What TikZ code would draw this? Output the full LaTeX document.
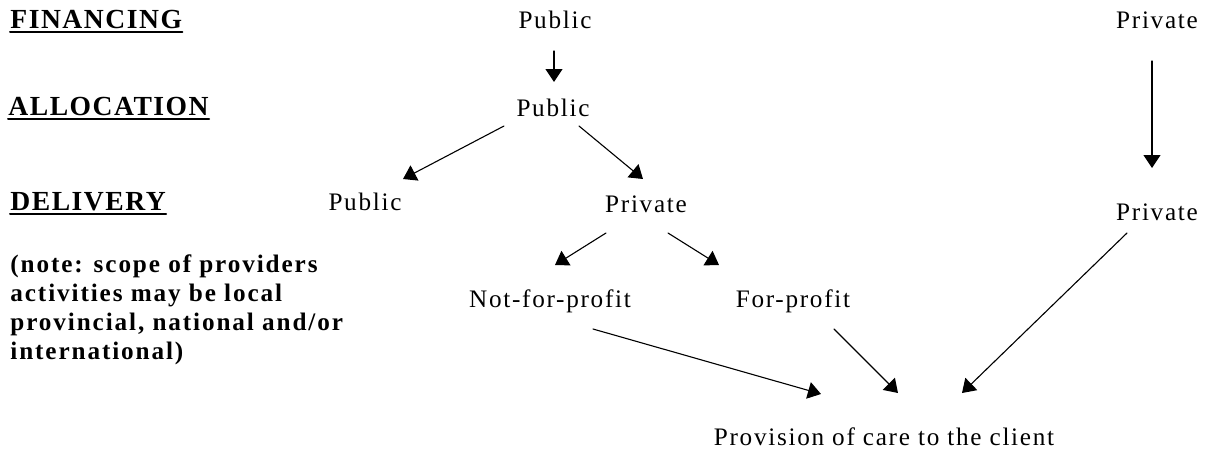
\documentclass[tikz,border=0pt]{standalone}
\usepackage{fontspec}
\setmainfont{Liberation Serif}
\usepackage{tikz}
\usetikzlibrary{arrows.meta}

\begin{document}
\begin{tikzpicture}[x=.5pt,y=-.5pt,line cap=round,line join=round,
  lbl/.style={inner sep=0pt,anchor=base,
    font=\fontsize{12.6}{14.5}\selectfont\addfontfeatures{LetterSpace=6.8}},
  head/.style={inner sep=0pt,anchor=base west,
    font=\fontsize{13.8}{16}\bfseries\addfontfeatures{LetterSpace=5.5}},
  arr/.style={-{Triangle[length=6.5pt,width=8.5pt]},line width=.55pt}]
\useasboundingbox(0,0)rectangle(1207,452);
% row titles
\node[head](fin)at(10,28){FINANCING};
\node[head](alloc)at(8,115){ALLOCATION};
\node[head](deliv)at(10,210){DELIVERY\ };
\foreach \h in {fin,alloc,deliv}
  \draw[line width=1pt]([yshift=-2pt]\h.base west)--([yshift=-2pt]\h.base east);
\node[anchor=north west,inner sep=0pt,align=left,
  font=\fontsize{12.6}{14.5}\bfseries\addfontfeatures{LetterSpace=7.5}](note)at(10,254)
  {(note: scope of providers\\activities may be local\\provincial, national and/or\\international)};
% public and private branches
\node[lbl](pubF)at(555,28){Public};
\node[lbl](privF)at(1157,28){Private};
\node[lbl](pubA)at(553,116){Public};
\node[lbl](pubD)at(365,210){Public};
\node[lbl](privD)at(646,212){Private};
\node[lbl](privR)at(1157,220){Private};
\node[lbl](nfp)at(550,307){Not-for-profit};
\node[lbl](fp)at(793,307){For-profit};
\node[lbl](care)at(884,445){Provision of care to the client};
\draw[arr]([shift={(-1,23)}]pubF.base)--([shift={(1,-34)}]pubA.base);
\draw[arr]([shift={(-49,10)}]pubA.base)--([shift={(38,-31)}]pubD.base);
\draw[arr]([shift={(26,10)}]pubA.base)--([shift={(-3,-33)}]privD.base);
\draw[arr]([shift={(-5,33)}]privF.base)--([shift={(-5,-52)}]privR.base);
\draw[arr]([shift={(-40,21)}]privD.base)--([shift={(5,-42)}]nfp.base);
\draw[arr]([shift={(22,21)}]privD.base)--([shift={(-74,-42)}]fp.base);
\draw[arr]([shift={(43,22)}]nfp.base)--([shift={(-63,-51)}]care.base);
\draw[arr]([shift={(41,22)}]fp.base)--([shift={(14,-52)}]care.base);
\draw[arr]([shift={(-30,13)}]privR.base)--([shift={(78,-52)}]care.base);
\end{tikzpicture}
\end{document}
